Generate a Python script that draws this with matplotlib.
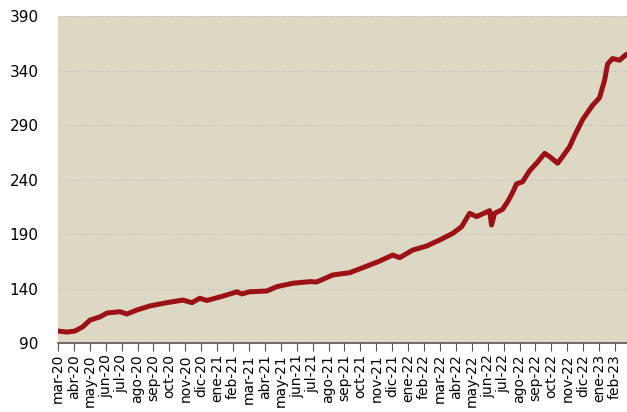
import matplotlib
matplotlib.use("Agg")
import matplotlib.pyplot as plt

# meses desde mar-20 (0 = 1 mar 2020) y valor del indice
meses = [0.0, 0.56, 1.07, 1.57, 2.01, 2.64, 3.08, 3.89, 4.33, 4.96, 5.78, 6.84,
         7.85, 8.41, 8.91, 9.35, 10.36, 11.24, 11.55, 12.05, 13.12, 13.75, 14.75,
         15.82, 16.26, 17.26, 18.33, 18.77, 19.59, 20.21, 21.03, 21.47, 22.29,
         23.16, 23.98, 24.80, 25.36, 25.86, 26.30, 27.12, 27.24, 27.43, 27.93,
         28.25, 28.56, 28.81, 29.19, 29.63, 30.13, 30.57, 30.89, 31.39, 31.70,
         32.14, 32.45, 32.96, 33.58, 34.02, 34.34, 34.53, 34.84, 35.28, 35.72]
indice = [101, 100, 101, 105, 111, 114, 117.5, 118.7, 116.6, 120.3, 124, 127,
          129.4, 127, 131, 129, 133, 137, 135, 137, 137.7, 141.7, 144.8,
          146.3, 146, 152.4, 154.5, 157, 161.6, 165.2, 170.7, 168.3, 175.3,
          179, 184.5, 190.6, 196.7, 209, 206, 211.4, 198.3, 209, 212.6,
          219.6, 228, 236, 238, 248, 256, 264, 261, 255, 261,
          270, 280, 295, 308, 315, 331, 346, 351, 349.5, 355]

etiquetas = []
for anio in (20, 21, 22, 23):
    for m in ["ene", "feb", "mar", "abr", "may", "jun", "jul", "ago", "sep", "oct", "nov", "dic"]:
        etiquetas.append(f"{m}-{anio}")
etiquetas = etiquetas[2:2 + 36]  # mar-20 ... feb-23

y_ticks = [90, 140, 190, 240, 290, 340, 390]

fig = plt.figure(figsize=(6.27, 4.12), dpi=100)
ax = fig.add_axes([0.0925, 0.1675, 0.9075, 0.7935])
ax.set_facecolor("#ddd8c3")

ax.plot(meses, indice, color="#9b1115", lw=3.6, solid_capstyle="round",
        solid_joinstyle="round")

ax.set_xlim(0, 35.75)
ax.set_ylim(90, 390)
ax.set_yticks(y_ticks)
ax.set_yticklabels([str(v) for v in y_ticks], fontsize=11)
ax.tick_params(axis="y", length=0, pad=14)
ax.set_xticks(range(len(etiquetas)))
ax.set_xticklabels(etiquetas, rotation=90, fontsize=10, va="top")
ax.tick_params(axis="x", length=6, color="#555555", pad=2)

ax.grid(axis="y", color="#c8c8c8", linestyle="--", linewidth=0.8)
ax.set_axisbelow(True)
for s in ("left", "right", "top"):
    ax.spines[s].set_visible(False)
ax.spines["bottom"].set_color("#555555")
ax.spines["bottom"].set_linewidth(1.2)

fig.savefig("out.png", dpi=100)
